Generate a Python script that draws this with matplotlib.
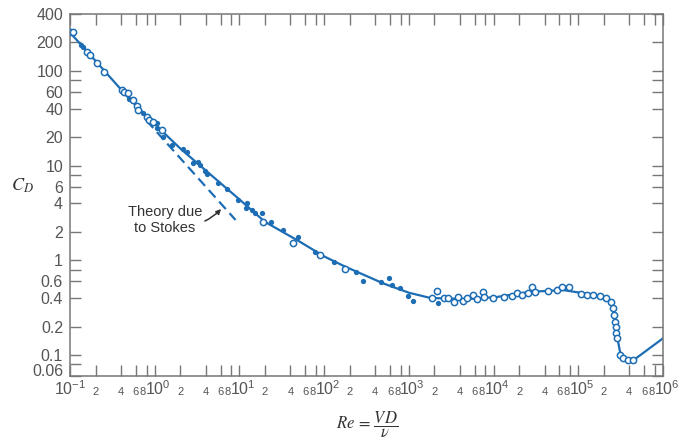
import matplotlib.pyplot as plt
from matplotlib.transforms import ScaledTranslation

plt.rcParams['font.family'] = ['Liberation Sans', 'DejaVu Sans']
plt.rcParams['mathtext.fontset'] = 'stix'

BLUE = '#1d6db5'
GRAY = '#555555'
DARK = '#333333'

# drag coefficient of a smooth sphere, faired curve
curve_re = [0.1, 0.2, 0.5, 1, 2, 5, 10, 20, 50, 100, 176, 500, 1000, 1800,
            5000, 10900, 27000, 66500, 105000, 198000, 248000, 265000,
            279000, 311000, 373000, 447000, 1000000]
curve_cd = [255, 128, 51, 27.5, 15.2, 7.5, 4.4, 2.55, 1.6, 1.1, 0.86, 0.57,
            0.455, 0.40, 0.39, 0.41, 0.465, 0.485, 0.455, 0.413, 0.35, 0.26,
            0.18, 0.108, 0.087, 0.088, 0.15]

# Stokes: CD = 24/Re
stokes_re = [0.8, 9.0]
stokes_cd = [30.0, 2.67]

# measurements, open symbols
open_re = [0.10, 0.109, 0.16, 0.172, 0.21, 0.254, 0.41, 0.434, 0.49, 0.56,
           0.61, 0.64, 0.80, 0.86, 0.96, 1.23, 19.1, 43.3, 89.3, 176,
           1890, 2130, 2600, 2920, 3410, 3840, 4400, 4900, 5670, 6330,
           7570, 7700, 9930, 13300, 16400, 18700, 21500, 25700, 28200, 30800,
           44300, 55600, 63700, 78300, 107000, 128000, 151000, 181000, 212000,
           244000, 259000, 264000, 272000, 277000, 279000, 284000, 311000,
           340000, 384000, 440000]
open_cd = [260, 257, 157, 147, 120, 98, 63, 60, 58, 49,
           43, 38.7, 32.9, 30.3, 29.1, 23.8, 2.56, 1.53, 1.14, 0.81,
           0.397, 0.478, 0.397, 0.397, 0.365, 0.413, 0.374, 0.397, 0.43, 0.39,
           0.466, 0.413, 0.397, 0.413, 0.423, 0.448, 0.43, 0.448, 0.526, 0.466,
           0.478, 0.485, 0.526, 0.526, 0.44, 0.43, 0.43, 0.42, 0.397,
           0.365, 0.311, 0.264, 0.224, 0.199, 0.172, 0.15, 0.100,
           0.092, 0.0885, 0.0885]

# measurements, filled symbols
filled_re = [0.135, 0.141, 0.50, 0.733, 1.05, 1.07, 1.26, 1.59, 2.17, 2.43,
             2.81, 3.27, 3.42, 3.93, 4.18, 5.64, 7.14, 9.57, 12.2, 12.0,
             14.0, 15.3, 18.7, 23.5, 33, 49.5, 78, 131, 238, 288,
             469, 587, 628, 787, 986, 1110, 2230]
filled_cd = [188, 181, 50, 35.7, 28, 24.8, 20.2, 16.5, 14.9, 14.0,
             10.7, 11.0, 10.2, 8.8, 8.2, 6.6, 5.7, 4.38, 4.06, 3.6,
             3.4, 3.14, 3.2, 2.56, 2.11, 1.75, 1.23, 0.955, 0.76, 0.61,
             0.594, 0.645, 0.548, 0.506, 0.423, 0.374, 0.356]

decades = [-1, 0, 1, 2, 3, 4, 5, 6]
mantissas = [2, 4, 6, 8]

ytick_vals = [0.06, 0.08, 0.1, 0.2, 0.4, 0.6, 0.8, 1, 2, 4, 6, 8, 10, 20,
              40, 60, 80, 100, 200, 400]
ytick_text = ['0.06', '', '0.1', '0.2', '0.4', '0.6', '', '1', '2', '4', '6',
              '', '10', '20', '40', '60', '', '100', '200', '400']

fig = plt.figure(figsize=(6.83, 4.43), dpi=100)
ax = fig.add_axes([70 / 683, 1 - 376 / 443, 593 / 683, 362 / 443])

ax.plot(curve_re, curve_cd, color=BLUE, lw=1.6, zorder=2)
ax.plot(stokes_re, stokes_cd, color=BLUE, lw=1.6, ls=(0, (4.5, 2.5)), zorder=2)
ax.plot(filled_re, filled_cd, 'o', color=BLUE, ms=3.8, mew=0, zorder=3)
ax.plot(open_re, open_cd, 'o', mfc='white', mec=BLUE, ms=4.5, mew=1.1,
        zorder=4)

ax.set_xscale('log')
ax.set_yscale('log')
ax.set_xlim(0.1, 1e6)
ax.set_ylim(0.06, 400)

# x ticks: decades plus 2, 4, 6, 8 within each decade
xticks = []
for d in decades:
    xticks.append(10.0 ** d)
    if d < 6:
        xticks += [m * 10.0 ** d for m in mantissas]
ax.set_xticks(xticks)
ax.set_xticklabels([])
ax.xaxis.set_minor_locator(plt.NullLocator())
ax.set_yticks(ytick_vals)
ax.set_yticklabels(ytick_text)
ax.yaxis.set_minor_locator(plt.NullLocator())

ax.tick_params(which='both', direction='in', length=8, width=1.0,
               color='#777777', top=True, right=True)
ax.tick_params(axis='y', labelsize=11.5, labelcolor=GRAY, pad=5)
for sp in ax.spines.values():
    sp.set_color('#777777')
    sp.set_linewidth(1.1)

# lift the bottom label clear of the x labels
lab = ax.get_yticklabels()[0]
lab.set_transform(lab.get_transform() +
                  ScaledTranslation(0, 4 / 72, fig.dpi_scale_trans))

# hand-placed x labels so the small digits share the baseline of "10"
for d in decades:
    dx = 0 if d == -1 else 2.5
    ax.annotate(r'$\mathdefault{10^{%d}}$' % d, xy=(10.0 ** d, 0),
                xycoords=('data', 'axes fraction'), xytext=(dx, -14),
                textcoords='offset points', ha='center', va='baseline',
                fontsize=11.5, color=GRAY)
    if d < 6:
        for m in mantissas:
            mdx = -2.5 if m == 8 else 0
            ax.annotate(str(m), xy=(m * 10.0 ** d, 0),
                        xycoords=('data', 'axes fraction'), xytext=(mdx, -14),
                        textcoords='offset points', ha='center',
                        va='baseline', fontsize=8, color=GRAY)

fig.text(22 / 683, 1 - 186 / 443, r'$C_D$', fontsize=13, color=DARK,
         ha='center', va='center')
fig.text(367 / 683, 1 - 425 / 443, r'$Re\,=\,\dfrac{VD}{\nu}$', fontsize=12,
         color=DARK, ha='center', va='center')

ax.annotate('Theory due\nto Stokes', xy=(6.07, 3.48), xytext=(1.32, 2.67),
            ha='center', va='center', fontsize=10.5, color=DARK,
            linespacing=1.1,
            arrowprops=dict(arrowstyle='-|>', color=DARK, lw=1.1,
                            mutation_scale=7, shrinkA=30, shrinkB=0,
                            connectionstyle='arc3,rad=0.35'))

fig.savefig('out.png', dpi=100)
